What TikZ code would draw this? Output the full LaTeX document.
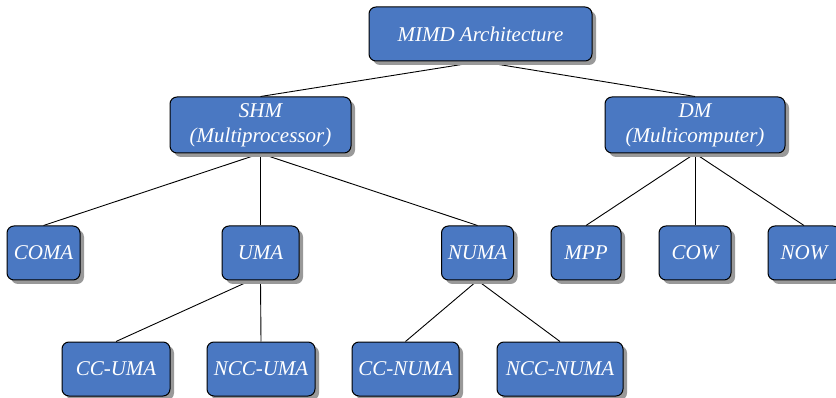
\documentclass[tikz,border=0pt]{standalone}
\usepackage{fontspec}
\setmainfont{Liberation Serif}
\usetikzlibrary{shadows,backgrounds,calc}
\definecolor{boxblue}{HTML}{4A78C2}
\tikzset{
  treebox/.style={draw=black, line width=1pt, rounded corners=7pt, fill=boxblue,
    text=white, font=\fontsize{21}{25}\selectfont\itshape,
    minimum height=54pt, inner sep=0pt, align=center,
    drop shadow={shadow xshift=4pt, shadow yshift=-4pt, fill=black!40, opacity=1}},
  link/.style={draw=black, line width=0.9pt}
}
\begin{document}
\begin{tikzpicture}[x=1pt,y=-1pt]
\useasboundingbox (0,0) rectangle (836,398);
\clip (0,0) rectangle (836,398);

% root
\node[treebox, minimum width=223pt] (mimd) at (480.5,34) {MIMD Architecture};

% memory organisation
\node[treebox, minimum width=181pt, minimum height=56pt] (shm) at (260.5,125) {SHM\\(Multiprocessor)};
\node[treebox, minimum width=180pt, minimum height=56pt] (dm) at (695,125) {DM\\(Multicomputer)};

% shared-memory classes
\node[treebox, minimum width=73pt] (coma) at (43.5,253) {COMA};
\node[treebox, minimum width=77pt] (uma) at (260.5,253) {UMA};
\node[treebox, minimum width=72pt] (numa) at (477.5,253) {NUMA};

% distributed-memory classes
\node[treebox, minimum width=70pt] (mpp) at (586,253) {MPP};
\node[treebox, minimum width=72pt] (cow) at (695,253) {COW};
\node[treebox, minimum width=72pt] (now) at (804,253) {NOW};

% cache coherence variants
\node[treebox, minimum width=108pt] (ccuma) at (116,369) {CC-UMA};
\node[treebox, minimum width=108pt] (nccuma) at (261,369) {NCC-UMA};
\node[treebox, minimum width=107pt] (ccnuma) at (405.5,369) {CC-NUMA};
\node[treebox, minimum width=126pt] (nccnuma) at (560,369) {NCC-NUMA};

\begin{scope}[on background layer]
  \draw[link] (mimd.south) -- (shm.north);
  \draw[link] (mimd.south) -- (dm.north);
  \draw[link] (shm.south) -- (coma.north);
  \draw[link] (shm.south) -- (uma.north);
  \draw[link] (shm.south) -- (numa.north);
  \draw[link] (dm.south) -- (mpp.north);
  \draw[link] (dm.south) -- (cow.north);
  \draw[link] (dm.south) -- (now.north);
  \draw[link] ($(uma.south)+(-10,0)$) -- (ccuma.north);
  \draw[link] (uma.south) -- (nccuma.north);
  \draw[link] (numa.south) -- (ccnuma.north);
  \draw[link] (numa.south) -- (nccnuma.north);
\end{scope}
\end{tikzpicture}
\end{document}
